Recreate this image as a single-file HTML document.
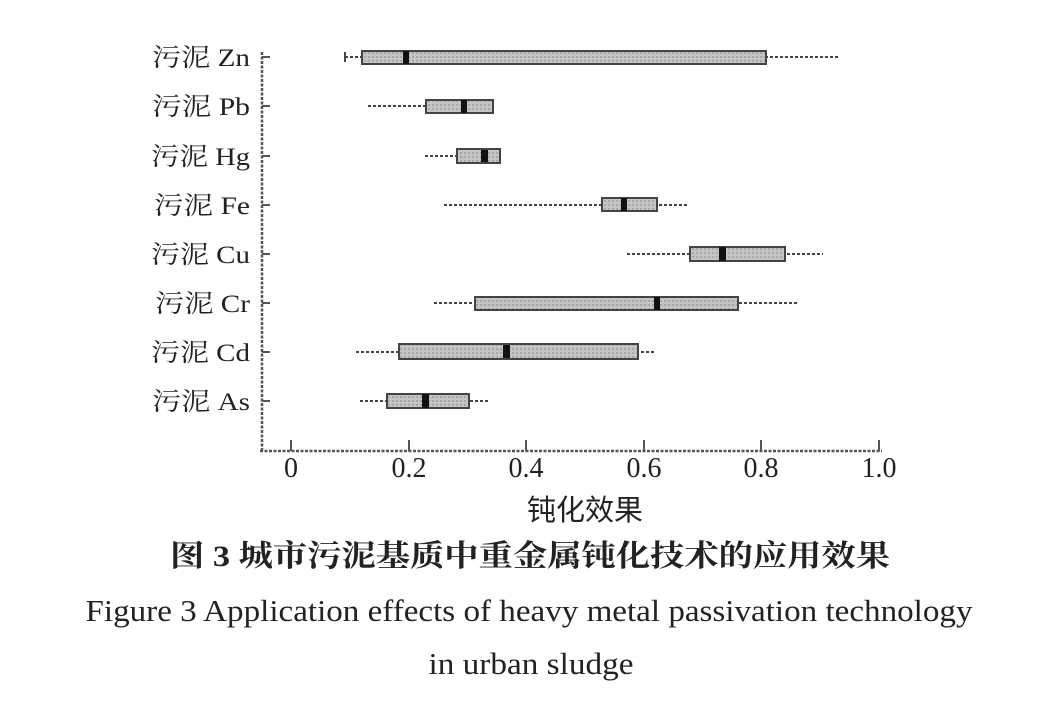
<!DOCTYPE html>
<html><head><meta charset="utf-8"><style>
body{margin:0;background:#fff;}
svg text{font-family:"Liberation Serif","Noto Serif CJK SC",serif;fill:#222;}
</style></head><body>
<svg width="1040" height="708" xmlns="http://www.w3.org/2000/svg">
<defs><pattern id="p" width="4" height="4" patternUnits="userSpaceOnUse">
<rect width="4" height="4" fill="#c4c4c4"/><rect width="2" height="2" fill="#a8a8a8"/></pattern></defs>
<g stroke="#555" stroke-width="2.5" stroke-dasharray="3,1.5" fill="none">
<line x1="262" y1="52" x2="262" y2="452"/>
<line x1="260" y1="451" x2="882" y2="451"/>
</g>
<g stroke="#555" stroke-width="2">
<line x1="291" y1="440" x2="291" y2="451"/><line x1="409" y1="440" x2="409" y2="451"/>
<line x1="526" y1="440" x2="526" y2="451"/><line x1="644" y1="440" x2="644" y2="451"/>
<line x1="761" y1="440" x2="761" y2="451"/><line x1="879" y1="440" x2="879" y2="451"/>
<line x1="262" y1="57" x2="270" y2="57"/><line x1="262" y1="106" x2="270" y2="106"/>
<line x1="262" y1="156" x2="270" y2="156"/><line x1="262" y1="205" x2="270" y2="205"/>
<line x1="262" y1="254" x2="270" y2="254"/><line x1="262" y1="303" x2="270" y2="303"/>
<line x1="262" y1="352" x2="270" y2="352"/><line x1="262" y1="401" x2="270" y2="401"/>
</g>
<g stroke="#444" stroke-width="2">
<g><line x1="345" y1="57" x2="838" y2="57" stroke-dasharray="3,2"/><line x1="345" y1="52" x2="345" y2="62"/><rect x="362" y="51" width="404" height="13" fill="url(#p)"/><rect x="403" y="51" width="6" height="13" fill="#111" stroke="none"/></g>
<g><line x1="368" y1="106" x2="493" y2="106" stroke-dasharray="3,2"/><rect x="426" y="100" width="67" height="13" fill="url(#p)"/><rect x="461" y="100" width="6" height="13" fill="#111" stroke="none"/></g>
<g><line x1="425" y1="156" x2="500" y2="156" stroke-dasharray="3,2"/><rect x="457" y="149" width="43" height="14" fill="url(#p)"/><rect x="481" y="150" width="7" height="12" fill="#111" stroke="none"/></g>
<g><line x1="444" y1="205" x2="688" y2="205" stroke-dasharray="3,2"/><rect x="602" y="198" width="55" height="13" fill="url(#p)"/><rect x="621" y="198" width="6" height="13" fill="#111" stroke="none"/></g>
<g><line x1="627" y1="254" x2="823" y2="254" stroke-dasharray="3,2"/><rect x="690" y="247" width="95" height="14" fill="url(#p)"/><rect x="719" y="247" width="7" height="14" fill="#111" stroke="none"/></g>
<g><line x1="434" y1="303" x2="797" y2="303" stroke-dasharray="3,2"/><rect x="475" y="297" width="263" height="13" fill="url(#p)"/><rect x="654" y="297" width="6" height="13" fill="#111" stroke="none"/></g>
<g><line x1="356" y1="352" x2="655" y2="352" stroke-dasharray="3,2"/><rect x="399" y="344" width="239" height="15" fill="url(#p)"/><rect x="503" y="345" width="7" height="13" fill="#111" stroke="none"/></g>
<g><line x1="360" y1="401" x2="488" y2="401" stroke-dasharray="3,2"/><rect x="387" y="394" width="82" height="14" fill="url(#p)"/><rect x="422" y="394" width="7" height="14" fill="#111" stroke="none"/></g>
</g>
<g font-size="25" text-anchor="end">
<text x="250" y="66" textLength="98" lengthAdjust="spacingAndGlyphs">污泥 Zn</text><text x="250" y="115" textLength="98" lengthAdjust="spacingAndGlyphs">污泥 Pb</text>
<text x="250" y="165" textLength="99" lengthAdjust="spacingAndGlyphs">污泥 Hg</text><text x="250" y="214" textLength="96" lengthAdjust="spacingAndGlyphs">污泥 Fe</text>
<text x="250" y="263" textLength="99" lengthAdjust="spacingAndGlyphs">污泥 Cu</text><text x="250" y="312" textLength="95" lengthAdjust="spacingAndGlyphs">污泥 Cr</text>
<text x="250" y="361" textLength="99" lengthAdjust="spacingAndGlyphs">污泥 Cd</text><text x="250" y="410" textLength="98" lengthAdjust="spacingAndGlyphs">污泥 As</text>
</g>
<g font-size="28" text-anchor="middle">
<text x="291" y="477">0</text><text x="409" y="477">0.2</text><text x="526" y="477">0.4</text>
<text x="644" y="477">0.6</text><text x="761" y="477">0.8</text><text x="879" y="477">1.0</text>
<text x="585" y="520" style="font-family:'Noto Sans CJK SC',sans-serif" font-size="29">钝化效果</text>
<text x="530" y="566" font-size="30" font-weight="bold" textLength="720" lengthAdjust="spacingAndGlyphs" style="font-family:'Liberation Serif','Noto Serif CJK SC',serif">图 3  城市污泥基质中重金属钝化技术的应用效果</text>
<text x="529" y="621" font-size="31" textLength="887" lengthAdjust="spacingAndGlyphs">Figure 3  Application effects of heavy metal passivation technology</text>
<text x="531" y="674" font-size="31" textLength="205" lengthAdjust="spacingAndGlyphs">in urban sludge</text>
</g>
</svg>
</body></html>
